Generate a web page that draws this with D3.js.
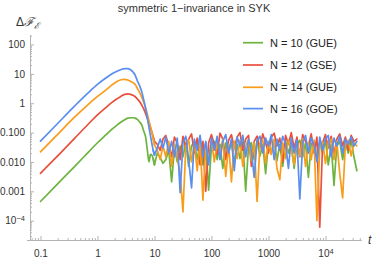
<!DOCTYPE html>
<html>
<head>
<meta charset="utf-8">
<script src="https://cdn.jsdelivr.net/npm/d3@7"></script>
<style>
  body { margin: 0; background: #fff; }
  svg { display: block; font-family: "Liberation Sans", Arial, sans-serif; }
</style>
</head>
<body>
<script>
// time grid: smooth early part, then the noisy plateau (log-spaced)
const tSmooth = [0.1, 0.2, 0.4, 0.7, 1, 1.4, 1.8, 2.2, 2.6, 3, 3.4, 3.8, 4.2, 4.6, 5, 5.5, 6, 6.5, 7, 7.5, 8, 8.5, 9, 9.5];
const tNoise = [10, 11.2, 12.6, 14.1, 15.8, 17.8, 20, 22.4, 25.1, 28.2,
  31.6, 35.5, 39.8, 44.7, 50.1, 56.2, 63.1, 70.8, 79.4, 89.1,
  100, 112, 126, 141, 158, 178, 200, 224, 251, 282,
  316, 355, 398, 447, 501, 562, 631, 708, 794, 891,
  1000, 1120, 1260, 1410, 1580, 1780, 2000, 2240, 2510, 2820,
  3160, 3550, 3980, 4470, 5010, 5620, 6310, 7080, 7940, 8910,
  10000, 11200, 12600, 14100, 15800, 17800, 20000, 22400, 25100, 28200,
  31600, 35500];

const seriesNames = ['N = 10 (GUE)', 'N = 12 (GSE)', 'N = 14 (GUE)', 'N = 16 (GOE)'];
const seriesColors = ['#6db33f', '#e8503c', '#f89c1c', '#5a8ef0'];

const n10Smooth = [0.00045, 0.0018, 0.0071, 0.022, 0.045, 0.083, 0.13, 0.18, 0.23, 0.275, 0.31, 0.32, 0.32, 0.31, 0.28, 0.23, 0.18, 0.11, 0.07, 0.025, 0.01, 0.018, 0.017, 0.0126];
const n12Smooth = [0.0041, 0.016, 0.065, 0.2, 0.4, 0.71, 1.07, 1.41, 1.74, 2.0, 2.07, 2.0, 1.86, 1.66, 1.41, 1.12, 0.85, 0.63, 0.44, 0.3, 0.21, 0.15, 0.105, 0.071];
const n14Smooth = [0.022, 0.087, 0.34, 0.93, 1.7, 2.8, 4.2, 5.5, 6.3, 6.5, 6.2, 5.6, 5.0, 4.3, 3.2, 2.3, 1.58, 1.05, 0.68, 0.42, 0.25, 0.16, 0.1, 0.063];
const n16Smooth = [0.051, 0.204, 0.81, 2.34, 4.37, 7.2, 10, 12.3, 14.1, 15.1, 15.1, 13.8, 11.5, 8.9, 5.8, 3.9, 2.4, 1.26, 0.66, 0.32, 0.15, 0.079, 0.042, 0.025];

const n10Noise = [0.008, 0.02, 0.014, 0.009, 0.012, 0.025, 0.0021, 0.03, 0.01, 0.035,
  0.015, 0.045, 0.007, 0.035, 0.05, 0.012, 0.04, 0.008, 0.045, 0.0011,
  0.035, 0.05, 0.012, 0.04, 0.006, 0.045, 0.018, 0.055, 0.009, 0.04,
  0.013, 0.05, 0.001, 0.035, 0.045, 0.012, 0.055, 0.016, 0.04, 0.004,
  0.045, 0.02, 0.055, 0.011, 0.04, 0.007, 0.05, 0.02, 0.045, 0.006,
  0.04, 0.055, 0.015, 0.045, 0.003, 0.04, 0.05, 0.011, 0.045, 0.02,
  0.055, 0.008, 0.04, 0.0016, 0.035, 0.05, 0.012, 0.045, 0.02, 0.055,
  0.015, 0.005];
const n12Noise = [0.05, 0.04, 0.025, 0.06, 0.08, 0.035, 0.015, 0.07, 0.045, 0.012,
  0.075, 0.03, 0.06, 0.09, 0.02, 0.065, 0.008, 0.05, 0.001, 0.045,
  0.085, 0.04, 0.018, 0.095, 0.06, 0.012, 0.055, 0.085, 0.03, 0.07,
  0.1, 0.025, 0.06, 0.08, 0.007, 0.05, 0.075, 0.03, 0.09, 0.045,
  0.02, 0.07, 0.095, 0.035, 0.065, 0.01, 0.08, 0.04, 0.1, 0.03,
  0.07, 0.015, 0.085, 0.05, 0.035, 0.09, 0.02, 0.07, 0.00006, 0.045,
  0.085, 0.03, 0.075, 0.018, 0.06, 0.09, 0.035, 0.07, 0.025, 0.08,
  0.05, 0.06];
const n14Noise = [0.038, 0.025, 0.012, 0.035, 0.015, 0.05, 0.007, 0.04, 0.014, 0.004,
  0.0002, 0.035, 0.055, 0.01, 0.045, 0.005, 0.05, 0.0005, 0.035, 0.012,
  0.055, 0.01, 0.045, 0.018, 0.06, 0.0032, 0.04, 0.0021, 0.05, 0.013,
  0.055, 0.007, 0.035, 0.06, 0.011, 0.045, 0.00045, 0.04, 0.055, 0.009,
  0.05, 0.018, 0.06, 0.006, 0.0025, 0.045, 0.013, 0.055, 0.025, 0.008,
  0.05, 0.016, 0.06, 0.007, 0.045, 0.012, 0.055, 0.0001, 0.035, 0.05,
  0.009, 0.045, 0.06, 0.012, 0.05, 0.004, 0.0006, 0.04, 0.055, 0.016,
  0.045, 0.035];
const n16Noise = [0.017, 0.03, 0.06, 0.03, 0.07, 0.02, 0.05, 0.015, 0.065, 0.0009,
  0.045, 0.075, 0.012, 0.0013, 0.06, 0.025, 0.08, 0.015, 0.05, 0.008,
  0.065, 0.025, 0.075, 0.012, 0.05, 0.085, 0.02, 0.06, 0.005, 0.07,
  0.035, 0.08, 0.015, 0.06, 0.025, 0.003, 0.055, 0.075, 0.02, 0.065,
  0.035, 0.085, 0.012, 0.06, 0.025, 0.075, 0.04, 0.006, 0.065, 0.02,
  0.055, 0.00055, 0.045, 0.08, 0.02, 0.065, 0.04, 0.01, 0.07, 0.025,
  0.06, 0.08, 0.015, 0.065, 0.035, 0.075, 0.02, 0.06, 0.04, 0.07,
  0.035, 0.05];

const xMajor = [0.1, 1, 10, 100, 1000, 10000];
const yMajor = [1e-4, 0.001, 0.01, 0.1, 1, 10, 100];
const yLabels = ['10|-4', '0.001', '0.010', '0.100', '1', '10', '100'];
const xLabels = ['0.1', '1', '10', '100', '1000', '10|4'];

(() => {
    const width = 374,
          height = 263;

    const svg = d3.select('body')
        .append('svg')
        .attr('width', width)
        .attr('height', height);

    const x = d3.scaleLog()
        .domain([0.0655, 42000])
        .range([30, 361]);

    const y = d3.scaleLog()
        .domain([2.2e-5, 210])
        .range([240, 35]);

    const minors = (lo, hi) => {
        const out = [];
        for (let e = Math.floor(Math.log10(lo)); e <= Math.ceil(Math.log10(hi)); e++) {
            for (let k = 2; k <= 9; k++) {
                const v = k * Math.pow(10, e);
                if (v >= lo && v <= hi) out.push(v);
            }
        }
        return out;
    };

    const axisColor = '#b4b4b4';

    // minor ticks
    svg.append('g')
        .attr('transform', 'translate(0,240)')
        .call(d3.axisBottom(x).tickValues(minors(...x.domain())).tickSizeInner(-2).tickSizeOuter(0).tickFormat(''));
    svg.append('g')
        .attr('transform', 'translate(30,0)')
        .call(d3.axisLeft(y).tickValues(minors(...y.domain())).tickSizeInner(-2).tickSizeOuter(0).tickFormat(''));

    // major ticks with labels
    const xAxis = svg.append('g')
        .attr('transform', 'translate(0,240)')
        .call(d3.axisBottom(x).tickValues(xMajor).tickSizeInner(-4).tickSizeOuter(0).tickPadding(10)
            .tickFormat((d, i) => xLabels[i]));
    const yAxis = svg.append('g')
        .attr('transform', 'translate(30,0)')
        .call(d3.axisLeft(y).tickValues(yMajor).tickSizeInner(-4).tickSizeOuter(0).tickPadding(5)
            .tickFormat((d, i) => yLabels[i]));

    svg.selectAll('.domain, .tick line').attr('stroke', axisColor);
    svg.selectAll('.tick text')
        .attr('fill', '#333')
        .style('font-size', '10px')
        .style('font-family', '"Liberation Sans", Arial, sans-serif');

    // labels like 10^4 get a superscript
    [xAxis, yAxis].forEach(g => {
        g.selectAll('.tick text').each(function () {
            const t = d3.select(this);
            const s = t.text();
            if (s.includes('|')) {
                const [base, sup] = s.split('|');
                t.text(base);
                t.append('tspan')
                    .attr('dy', '-0.45em')
                    .style('font-size', '7.5px')
                    .text(sup.replace('-', '\u2212'));
            }
        });
    });

    // x axis stub to the left of the y axis
    svg.append('line')
        .attr('x1', 27).attr('x2', 30)
        .attr('y1', 240.5).attr('y2', 240.5)
        .attr('stroke', axisColor);

    const smoothSets = [n10Smooth, n12Smooth, n14Smooth, n16Smooth];
    const noiseSets = [n10Noise, n12Noise, n14Noise, n16Noise];

    const smoothLine = d3.line()
        .x(d => x(d.t))
        .y(d => y(d.v))
        .curve(d3.curveMonotoneX);

    const noiseLine = d3.line()
        .x(d => x(d.t))
        .y(d => y(d.v));

    const plot = svg.append('g');
    smoothSets.forEach((sm, i) => {
        const ns = noiseSets[i];
        const early = tSmooth.map((t, j) => ({ t, v: sm[j] }))
            .concat([{ t: tNoise[0], v: ns[0] }]);
        const late = [{ t: tSmooth[tSmooth.length - 1], v: sm[sm.length - 1] }]
            .concat(tNoise.map((t, j) => ({ t, v: ns[j] })));

        [[early, smoothLine], [late, noiseLine]].forEach(([pts, gen]) => {
            plot.append('path')
                .datum(pts)
                .attr('fill', 'none')
                .attr('stroke', seriesColors[i])
                .attr('stroke-width', 1.7)
                .attr('stroke-linejoin', 'round')
                .attr('stroke-linecap', 'round')
                .attr('d', gen);
        });
    });

    // title
    svg.append('text')
        .attr('x', 194)
        .attr('y', 12)
        .attr('text-anchor', 'middle')
        .attr('fill', '#333')
        .style('font-size', '11px')
        .text('symmetric 1\u2212invariance in SYK');

    // y label
    const yl = svg.append('text')
        .attr('x', 16)
        .attr('y', 26)
        .attr('fill', '#333')
        .style('font-size', '12px');
    yl.append('tspan').text('\u0394');
    yl.append('tspan').style('font-style', 'italic').style('font-family', '"DejaVu Serif", serif').text('\u2131');
    yl.append('tspan').attr('dy', 3).style('font-size', '9px').style('font-style', 'italic')
        .style('font-family', '"DejaVu Serif", serif').text('\u2130');

    // x label
    svg.append('text')
        .attr('x', 368)
        .attr('y', 244)
        .attr('fill', '#333')
        .style('font-size', '12px')
        .style('font-style', 'italic')
        .text('t');

    // legend
    const legend = svg.append('g');
    const rowY = [42.7, 65, 87.3, 108.6];
    seriesNames.forEach((name, i) => {
        legend.append('line')
            .attr('x1', 243).attr('x2', 263)
            .attr('y1', rowY[i]).attr('y2', rowY[i])
            .attr('stroke', seriesColors[i])
            .attr('stroke-width', 1.7);
        legend.append('text')
            .attr('x', 270)
            .attr('y', rowY[i])
            .attr('dy', '0.36em')
            .attr('fill', '#222')
            .style('font-size', '11px')
            .text(name);
    });
})();
</script>
</body>
</html>
